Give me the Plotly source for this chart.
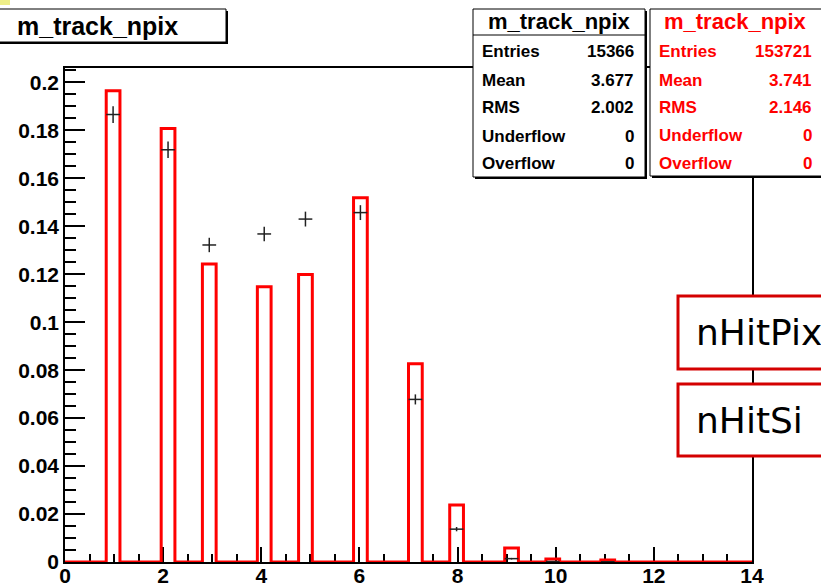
import numpy as np
import plotly.graph_objects as go

# ---- data -------------------------------------------------------------
npix = [1, 2, 3, 4, 5, 6, 7, 8, 9, 10, 11]
# normalised fraction of tracks, red histogram (outline)
frac_hist = [0.1965, 0.1808, 0.1243, 0.1148, 0.1199, 0.1519, 0.0827,
             0.0238, 0.0058, 0.0012, 0.0008]
# normalised fraction of tracks, black points with errors
frac_points = [0.1866, 0.1719, 0.1322, 0.1368, 0.1430, 0.1457, 0.0678,
               0.0137, 0.0014, 0.0002, 0.0001]
err_points = [0.0035, 0.0034, 0.0030, 0.0030, 0.0031, 0.0031, 0.0021,
              0.0009, 0.0003, 0.0001, 0.0001]

stats_labels = ["Entries", "Mean", "RMS", "Underflow", "Overflow"]
stats_black = ["15366", "3.677", "2.002", "0", "0"]
stats_red = ["153721", "3.741", "2.146", "0", "0"]

hist_name = "m_track_npix"
side_labels = ["nHitPix", "nHitSi"]

# histogram binning: 50 bins on [0, 14]
N_BINS, X_MIN, X_MAX = 50, 0.0, 14.0
bin_w = (X_MAX - X_MIN) / N_BINS
edges = np.linspace(X_MIN, X_MAX, N_BINS + 1)
bin_idx = [int(np.floor((n - X_MIN) / bin_w + 1e-9)) for n in npix]
centers = [X_MIN + (i + 0.5) * bin_w for i in bin_idx]

step_y = np.zeros(N_BINS + 1)
for i, v in zip(bin_idx, frac_hist):
    step_y[i] = v

# ---- figure geometry (pixels) ----------------------------------------
W, H = 821, 586
L, R, T, B = 65, 752, 68, 562


def px(x):
    return (x - L) / (R - L)


def py(y):
    return (B - y) / (B - T)


fig = go.Figure()

# red histogram drawn as a step outline
fig.add_trace(go.Scatter(
    x=edges, y=step_y, mode="lines", line_shape="hv",
    line=dict(color="#ff0000", width=3), hoverinfo="skip", showlegend=False,
))

# black points with bin-width horizontal bars and vertical errors
fig.add_trace(go.Scatter(
    x=centers, y=frac_points, mode="markers",
    marker=dict(size=1, color="#222222"),
    error_x=dict(type="data", array=[bin_w / 2] * len(centers),
                 width=0, thickness=1.5, color="#222222"),
    error_y=dict(type="data", array=err_points,
                 width=0, thickness=1.5, color="#222222"),
    showlegend=False,
))

tick_font = dict(family="Liberation Sans, Arial, sans-serif",
                 color="black", weight="bold")

fig.update_xaxes(
    range=[X_MIN, X_MAX], dtick=2, tick0=0,
    ticks="inside", ticklen=15, tickwidth=1.5, tickcolor="black",
    minor=dict(dtick=0.5, ticks="inside", ticklen=8, tickwidth=1.5,
               tickcolor="black"),
    showline=True, linecolor="black", linewidth=1.5, mirror=True,
    showgrid=False, zeroline=False, layer="below traces",
    tickfont=dict(size=21, **tick_font), ticklabelstandoff=-6,
)
fig.update_yaxes(
    range=[0, 0.206], dtick=0.02, tick0=0,
    ticks="inside", ticklen=20, tickwidth=1.5, tickcolor="black",
    minor=dict(dtick=0.005, ticks="inside", ticklen=11, tickwidth=1.5,
               tickcolor="black"),
    showline=True, linecolor="black", linewidth=1.5, mirror=True,
    showgrid=False, zeroline=False, layer="below traces",
    tickfont=dict(size=21, **tick_font), ticklabelstandoff=0,
)

shapes = []
annotations = []


def box(x0, y0, x1, y1, line_color="black", line_w=1, shadow=True, fill="white"):
    if shadow:
        shapes.append(dict(type="rect", xref="paper", yref="paper",
                           x0=px(x0 + 2), x1=px(x1 + 2), y0=py(y1 + 2), y1=py(y0 + 2),
                           fillcolor="black", line=dict(width=0), layer="above"))
    shapes.append(dict(type="rect", xref="paper", yref="paper",
                       x0=px(x0), x1=px(x1), y0=py(y1), y1=py(y0),
                       fillcolor=fill, line=dict(color=line_color, width=line_w),
                       layer="above"))


def text(x, y, s, size, color="black", anchor="left", family=None, weight="bold"):
    annotations.append(dict(
        xref="paper", yref="paper", x=px(x), y=py(y), text=s,
        showarrow=False, xanchor=anchor, yanchor="middle",
        font=dict(family=family or "Liberation Sans, Arial, sans-serif",
                  size=size, color=color, weight=weight),
    ))


# small yellow patch in the corner
shapes.append(dict(type="rect", xref="paper", yref="paper",
                   x0=px(0), x1=px(10), y0=py(5), y1=py(-2),
                   fillcolor="#eeee88", line=dict(width=0), layer="above"))

# histogram title box
box(-5, 9, 226, 42)
text(15, 26, hist_name, 25)

# statistics box, black series
box(473, 9, 645, 177)
shapes.append(dict(type="line", xref="paper", yref="paper",
                   x0=px(473), x1=px(645), y0=py(35), y1=py(35),
                   line=dict(color="black", width=1), layer="above"))
text(559, 22, hist_name, 22, anchor="center")
row_y = [52, 80, 107.5, 136, 164]
for lab, val, yy in zip(stats_labels, stats_black, row_y):
    text(480, yy, lab, 17)
    text(636, yy, val, 17, anchor="right")

# statistics box, red series
box(650, 9, 840, 176)
text(735, 22, hist_name, 22, color="#ff0000", anchor="center")
row_y2 = [52, 80, 107, 135, 163]
for lab, val, yy in zip(stats_labels, stats_red, row_y2):
    text(657, yy, lab, 17, color="#ff0000")
    text(814, yy, val, 17, color="#ff0000", anchor="right")

# side label boxes
for (y0, y1), lab in zip([(296, 369), (384, 456)], side_labels):
    box(678, y0, 900, y1, line_color="#d40000", line_w=3, shadow=False)
    text(694, (y0 + y1) / 2, lab, 36,
         family="Comic Sans MS, DejaVu Sans, sans-serif", weight="normal")

fig.update_layout(
    width=W, height=H,
    margin=dict(l=L, r=W - R, t=T, b=H - B, autoexpand=False),
    paper_bgcolor="white", plot_bgcolor="white",
    shapes=shapes, annotations=annotations,
    showlegend=False,
)

fig.write_html("out.html")
